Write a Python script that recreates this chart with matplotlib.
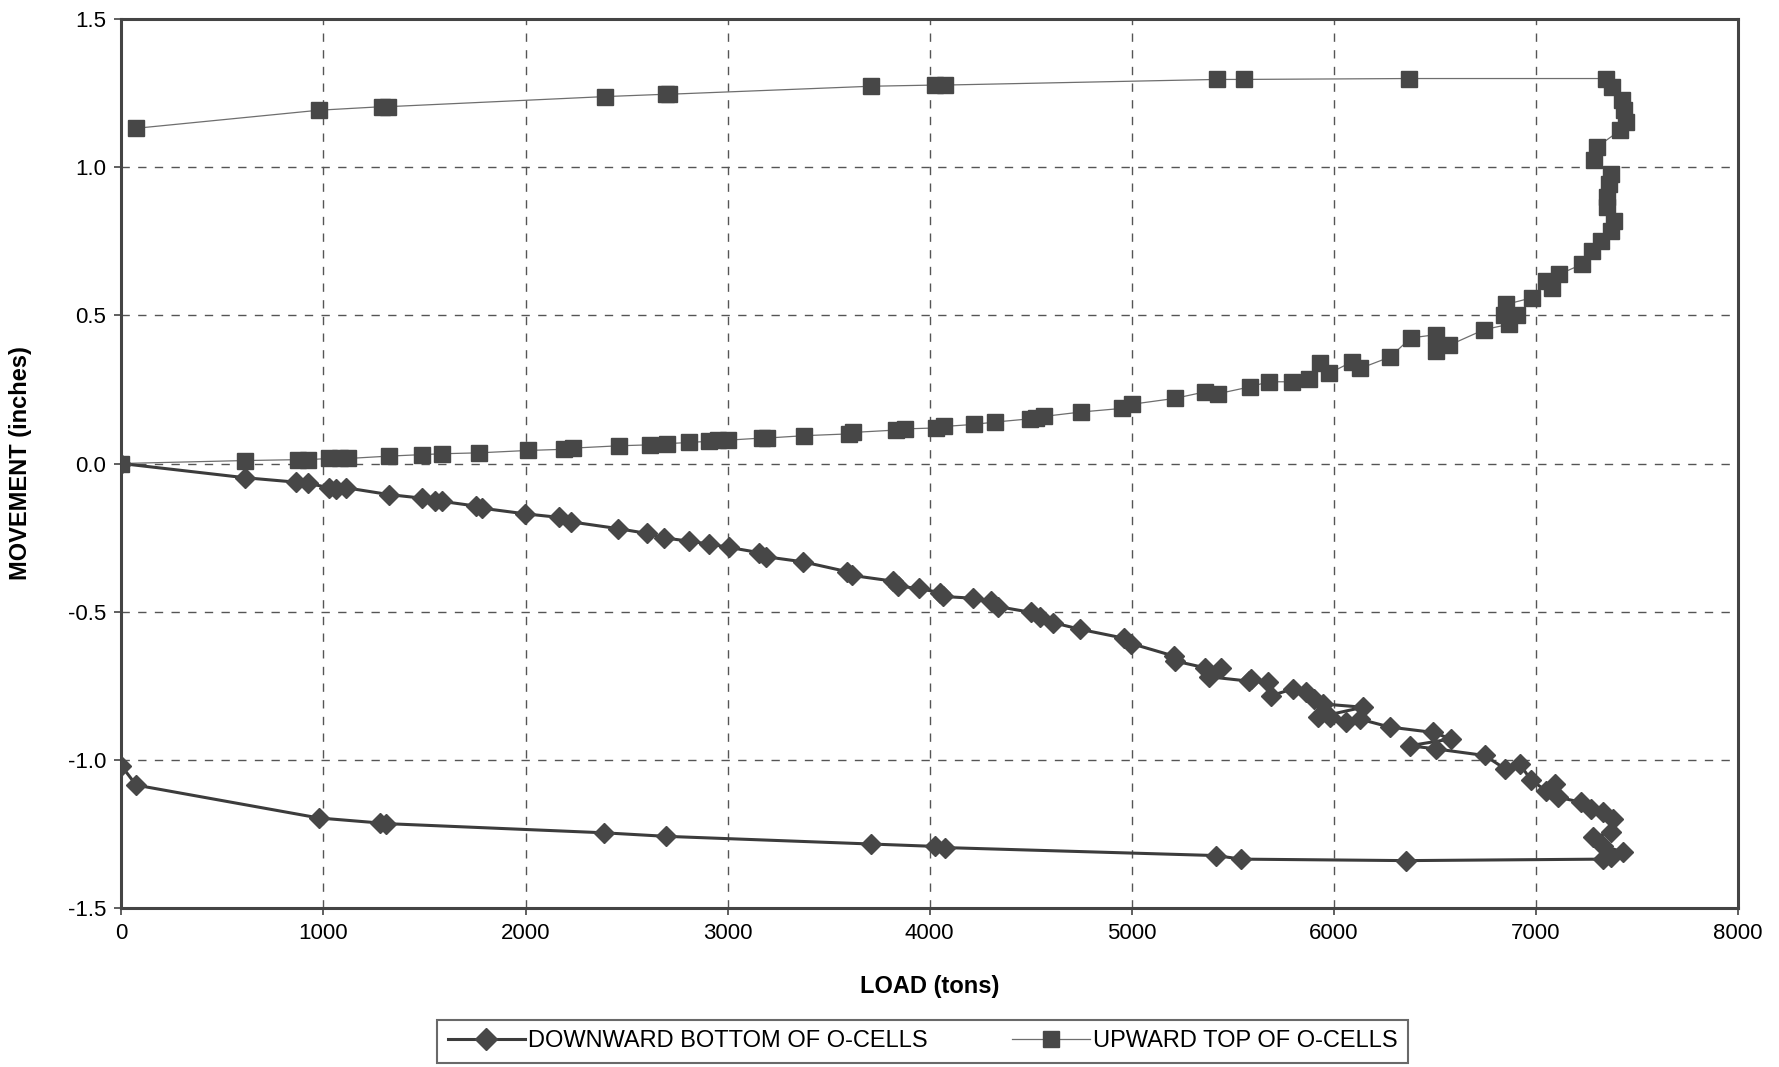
import matplotlib
matplotlib.use("Agg")
import matplotlib.pyplot as plt

plt.rcParams.update({
    "font.family": ["Liberation Sans", "DejaVu Sans"],
    "axes.unicode_minus": False,
})

# downward movement (bottom of O-cells), load in tons, movement in inches
down_load = [0, 612, 865, 926, 1028, 1061, 1112, 1325, 1488, 1550, 1589, 1757, 1785,
             1999, 2167, 2224, 2459, 2600, 2684, 2807, 2910, 3005, 3156, 3191, 3373,
             3590, 3616, 3816, 3842, 3946, 4050, 4068, 4215, 4302, 4337, 4503, 4546,
             4608, 4745, 4962, 4997, 5207, 5215, 5363, 5440, 5380, 5580, 5591, 5673,
             5690, 5797, 5863, 5904, 5945, 6144, 5921, 5979, 6061, 6127, 6276, 6490,
             6581, 6375, 6507, 6746, 6845, 6919, 6977, 7051, 7092, 7109, 7224, 7274,
             7332, 7382, 7373, 7282, 7332, 7431, 7373, 7332,
             6358, 5541, 5418, 4077, 4026, 3711, 2695, 2386, 1308, 1280, 977, 73, 0]
down_move = [0, -0.048, -0.063, -0.067, -0.082, -0.086, -0.082, -0.105, -0.117, -0.125,
             -0.128, -0.144, -0.151, -0.170, -0.182, -0.197, -0.220, -0.236, -0.251,
             -0.262, -0.272, -0.283, -0.301, -0.315, -0.332, -0.365, -0.378, -0.397,
             -0.414, -0.422, -0.436, -0.449, -0.455, -0.465, -0.483, -0.503, -0.520,
             -0.537, -0.560, -0.590, -0.608, -0.650, -0.667, -0.690, -0.690, -0.720,
             -0.735, -0.727, -0.739, -0.784, -0.761, -0.773, -0.795, -0.812, -0.823,
             -0.857, -0.857, -0.874, -0.863, -0.890, -0.908, -0.930, -0.953, -0.964,
             -0.986, -1.030, -1.015, -1.070, -1.105, -1.082, -1.127, -1.144, -1.167,
             -1.178, -1.200, -1.245, -1.262, -1.290, -1.313, -1.330, -1.336,
             -1.341, -1.336, -1.324, -1.297, -1.293, -1.285, -1.259, -1.247, -1.216,
             -1.214, -1.197, -1.086, -1.02]

# upward movement (top of O-cells)
up_load = [0, 612, 876, 926, 1028, 1084, 1123, 1325, 1488, 1589, 1769, 2010, 2190, 2235,
           2465, 2617, 2700, 2807, 2908, 2953, 3004, 3172, 3195, 3380, 3599, 3622, 3835,
           3880, 4031, 4071, 4217, 4323, 4498, 4526, 4565, 4750, 4950, 5000, 5214, 5363,
           5429, 5586, 5677, 5792, 5875, 5932, 5974, 6089, 6130, 6279, 6380, 6504, 6570,
           6504, 6743, 6866, 6842, 6908, 6850, 6982, 7048, 7081, 7114, 7229, 7279, 7320,
           7370, 7386, 7353, 7353, 7361, 7370, 7287, 7302, 7418, 7443, 7435, 7427, 7378,
           7345, 6371, 5553, 5424, 4077, 4026, 3711, 2712, 2695, 2392, 1320, 1291, 977, 73]
up_move = [0, 0.010, 0.013, 0.013, 0.017, 0.017, 0.017, 0.025, 0.030, 0.033, 0.036, 0.044,
           0.048, 0.052, 0.060, 0.063, 0.067, 0.071, 0.075, 0.079, 0.079, 0.086, 0.086,
           0.094, 0.100, 0.105, 0.113, 0.117, 0.120, 0.125, 0.132, 0.140, 0.151, 0.155,
           0.159, 0.174, 0.186, 0.200, 0.220, 0.242, 0.236, 0.259, 0.276, 0.276, 0.287,
           0.338, 0.304, 0.343, 0.321, 0.360, 0.424, 0.435, 0.400, 0.379, 0.452, 0.470,
           0.503, 0.503, 0.537, 0.560, 0.617, 0.594, 0.639, 0.673, 0.718, 0.752, 0.786,
           0.820, 0.865, 0.900, 0.945, 0.978, 1.024, 1.069, 1.126, 1.154, 1.193, 1.227,
           1.273, 1.300, 1.300, 1.297, 1.297, 1.278, 1.278, 1.274, 1.247, 1.247, 1.239,
           1.205, 1.205, 1.193, 1.132]

x_ticks = [0, 1000, 2000, 3000, 4000, 5000, 6000, 7000, 8000]
y_ticks = [-1.5, -1.0, -0.5, 0.0, 0.5, 1.0, 1.5]

fig = plt.figure(figsize=(17.79, 10.67), dpi=100)
ax = fig.add_axes([0.0682, 0.1493, 0.9088, 0.8326])

ax.plot(down_load, down_move, color="#3c3c3c", lw=2.2, marker="D", ms=10.5,
        mfc="#474747", mec="#474747", label="DOWNWARD BOTTOM OF O-CELLS", zorder=4)
ax.plot(up_load, up_move, color="#6e6e6e", lw=0.9, marker="s", ms=12,
        mfc="#474747", mec="#474747", label="UPWARD TOP OF O-CELLS", zorder=3)

ax.set_xlim(0, 8000)
ax.set_ylim(-1.5, 1.5)
ax.set_xticks(x_ticks)
ax.set_yticks(y_ticks)
ax.set_xticklabels([str(v) for v in x_ticks], fontsize=16)
ax.set_yticklabels([f"{v:.1f}" for v in y_ticks], fontsize=16)
ax.tick_params(direction="out", length=5, width=1.2, color="#444444", pad=6)
ax.grid(True, color="#555555", lw=1.0, ls=(0, (6, 6)))
for sp in ax.spines.values():
    sp.set_color("#444444")
    sp.set_linewidth(2.2)

ax.set_xlabel("LOAD (tons)", fontsize=17, fontweight="bold", labelpad=22)
ax.set_ylabel("MOVEMENT (inches)", fontsize=17, fontweight="bold", labelpad=26)

leg = fig.legend(loc="center", bbox_to_anchor=(0.5185, 0.024), ncol=2,
                 frameon=True, fancybox=False, edgecolor="#444444", handlelength=3.3,
                 columnspacing=3.6, borderpad=0.45, handletextpad=0.1,
                 prop={"family": ["Liberation Sans"], "size": 17})
leg.get_frame().set_linewidth(1.5)
for h in leg.legend_handles:
    h.set_markersize(11)

fig.savefig("out.png", dpi=100, facecolor="white")
